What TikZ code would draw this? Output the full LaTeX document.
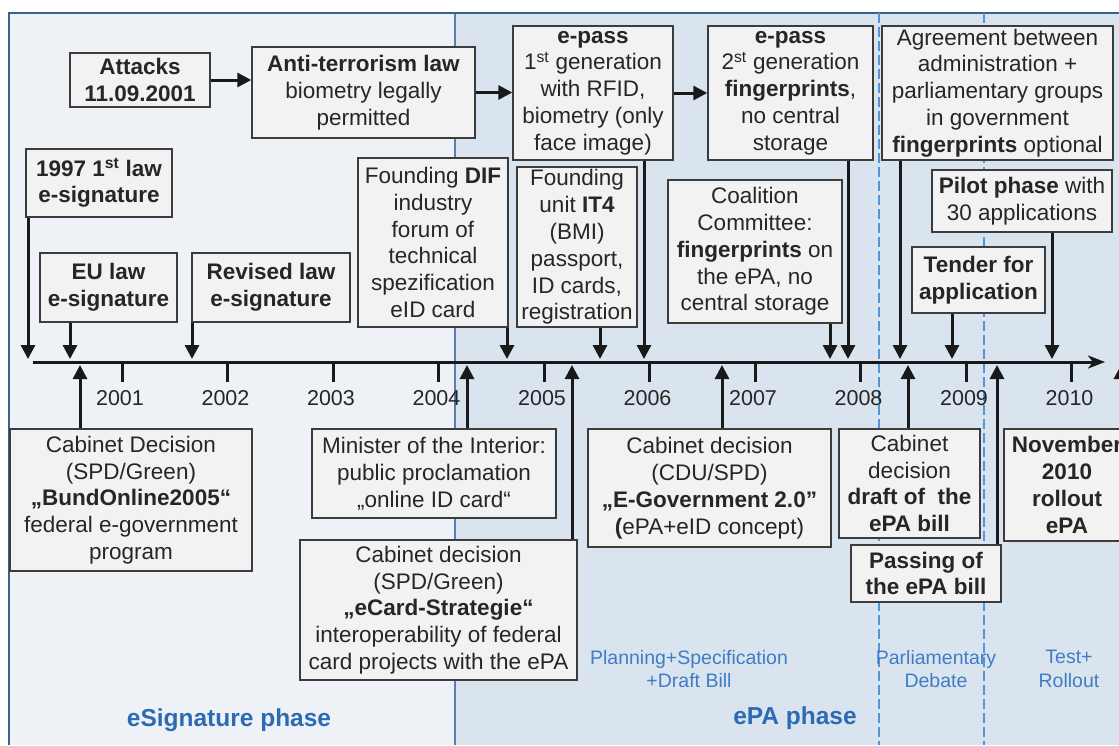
\documentclass[tikz,border=0pt]{standalone}
\usepackage{fontspec}
\setmainfont{Liberation Sans}
\usetikzlibrary{arrows.meta}
\definecolor{leftbg}{HTML}{EEF2F7}
\definecolor{rightbg}{HTML}{DAE4EF}
\definecolor{framec}{HTML}{3A6291}
\definecolor{splitc}{HTML}{5C7FAE}
\definecolor{dashc}{HTML}{5393D8}
\definecolor{boxfill}{HTML}{F2F2F2}
\definecolor{boxline}{HTML}{3C3C3C}
\definecolor{txt}{HTML}{262626}
\definecolor{phasec}{HTML}{2C6BB3}
\definecolor{subphasec}{HTML}{3F7DC6}
\begin{document}
\begin{tikzpicture}[x=1pt,y=-1pt,
  box/.style={draw=boxline, fill=boxfill, line width=1.4pt, inner sep=0pt, align=center, text=txt,
    font=\fontsize{22.5}{26.8}\selectfont},
  evt/.style={line width=3pt, draw=black!90, -{Triangle[length=14pt,width=14pt]}},
  axisline/.style={line width=3pt, draw=black!90, -{Stealth[length=17pt,width=13pt,inset=5pt]}},
  tickmark/.style={line width=3pt, draw=black!90},
  yearlab/.style={text=txt, inner sep=0pt, font=\fontsize{21.5}{24}\selectfont},
  phaselab/.style={text=phasec, inner sep=0pt, font=\fontsize{24.5}{28}\selectfont\bfseries},
  sublab/.style={text=subphasec, inner sep=0pt, align=center, font=\fontsize{19.5}{23.5}\selectfont},
  divider/.style={draw=dashc, line width=1.5pt, dash pattern=on 10pt off 4pt}
]
\useasboundingbox (0,0) rectangle (1119,745);
% backgrounds
\fill[white] (0,0) rectangle (1119,745);
\fill[leftbg] (9,13) rectangle (455,745);
\fill[rightbg] (455,13) rectangle (1119,745);
\draw[splitc, line width=1.2pt] (455,13) -- (455,745);
\draw[framec, line width=2pt] (9,745) -- (9,13) -- (1119,13);
% phase dividers
\draw[divider] (879,13) -- (879,745);
\draw[divider] (984,13) -- (984,745);

% axis
\coordinate (ax0) at (33,362);
\coordinate (ax1) at (1105,362);
\draw[axisline] (ax0) -- (ax1);
\foreach \yr [count=\i from 0] in {2001,...,2010} {
  \pgfmathsetmacro{\tx}{122+105.5*\i}
  \coordinate (tk\yr) at (\tx,362);
  \draw[tickmark] (tk\yr) -- ++(0,20);
  \node[yearlab] (yl\yr) at (\tx-2,398) {\yr};
}

% upper boxes
\node[box, minimum width=140pt, minimum height=54pt] (attacks) at (140,80) {\textbf{Attacks}\\\textbf{11.09.2001}};
\node[box, minimum width=223pt, minimum height=91pt] (anti) at (363.5,92.5) {\textbf{Anti-terrorism law}\\biometry legally\\permitted};
\node[box, minimum width=160pt, minimum height=134pt] (ep1) at (593,93) {\textbf{e-pass}\\1\textsuperscript{st} generation\\with RFID,\\biometry (only\\face image)};
\node[box, minimum width=165pt, minimum height=134pt] (ep2) at (790.5,93) {\textbf{e-pass}\\2\textsuperscript{st} generation\\\textbf{fingerprints},\\no central\\storage};
\node[box, minimum width=231pt, minimum height=134pt] (agree) at (997.5,93) {Agreement between\\administration +\\parliamentary groups\\in government\\\textbf{fingerprints} optional};
\node[box, minimum width=146pt, minimum height=68pt] (law97) at (99,183) {\textbf{1997 1\textsuperscript{st} law}\\\textbf{e-signature}};
\node[box, minimum width=137pt, minimum height=69pt] (eu) at (108.5,287.5) {\textbf{EU law}\\\textbf{e-signature}};
\node[box, minimum width=158pt, minimum height=69pt] (rev) at (271,287.5) {\textbf{Revised law}\\\textbf{e-signature}};
\node[box, minimum width=150pt, minimum height=169pt] (dif) at (433,242.5) {Founding \textbf{DIF}\\industry\\forum of\\technical\\spezification\\eID card};
\node[box, minimum width=120pt, minimum height=160pt] (it4) at (577,247) {Founding\\unit \textbf{IT4}\\(BMI)\\passport,\\ID cards,\\registration};
\node[box, minimum width=174pt, minimum height=143pt] (coal) at (755,251.5) {Coalition\\Committee:\\\textbf{fingerprints} on\\the ePA, no\\central storage};
\node[box, minimum width=180pt, minimum height=62pt] (pilot) at (1022,201) {\textbf{Pilot phase} with\\30 applications};
\node[box, minimum width=133pt, minimum height=66pt] (tender) at (978.5,280) {\textbf{Tender for}\\\textbf{application}};

% lower boxes
\node[box, minimum width=242pt, minimum height=142pt] (bund) at (131,500) {Cabinet Decision\\(SPD/Green)\\\textbf{„BundOnline2005“}\\federal e-government\\program};
\node[box, minimum width=244pt, minimum height=89pt] (mini) at (434,473.5) {Minister of the Interior:\\public proclamation\\„online ID card“};
\node[box, minimum width=277pt, minimum height=140pt] (ecard) at (438.5,610) {Cabinet decision\\(SPD/Green)\\\textbf{„eCard-Strategie“}\\interoperability of federal\\card projects with the ePA};
\node[box, minimum width=243pt, minimum height=118pt] (egov) at (709.5,488) {Cabinet decision\\(CDU/SPD)\\\textbf{„E-Government 2.0"}\\\textbf{(}ePA+eID concept)};
\node[box, minimum width=141pt, minimum height=109pt] (draft) at (909.5,483.5) {Cabinet\\decision\\\textbf{draft of\ \ the}\\\textbf{ePA bill}};
\node[box, minimum width=150pt, minimum height=57pt] (pass) at (926,573.5) {\textbf{Passing of}\\\textbf{the ePA bill}};
\node[box, minimum width=126pt, minimum height=112pt] (nov) at (1067,485) {\textbf{November}\\\textbf{2010}\\\textbf{rollout}\\\textbf{ePA}};

% chain arrows
\draw[evt] (attacks.east) -- (attacks.east -| anti.west);
\draw[evt] (anti.east) -- (anti.east -| ep1.west);
\draw[evt] (ep1.east) -- (ep1.east -| ep2.west);

% down arrows to axis
\foreach \nm/\xx in {law97/28, eu/70, rev/192, dif/507, it4/600, ep1/644, coal/830, ep2/848, agree/900, tender/952, pilot/1052} {
  \coordinate (d-\nm) at (\xx,359);
  \draw[evt] (\nm.south -| d-\nm) -- (d-\nm);
}
% up arrows to axis
\foreach \nm/\xx in {bund/80, mini/467, ecard/572, egov/722, draft/908, pass/997, nov/1121} {
  \coordinate (u-\nm) at (\xx,365);
  \draw[evt] (\nm.north -| u-\nm) -- (u-\nm);
}

% phase labels
\node[phaselab] (p1) at (229,720) {eSignature phase};
\node[phaselab] (p2) at (795,718) {ePA phase};
\node[sublab] (s1) at (689,669) {Planning+Specification\\+Draft Bill};
\node[sublab] (s2) at (936,669) {Parliamentary\\Debate};
\node[sublab] (s3) at (1069,669) {Test+\\Rollout};
\end{tikzpicture}
\end{document}
